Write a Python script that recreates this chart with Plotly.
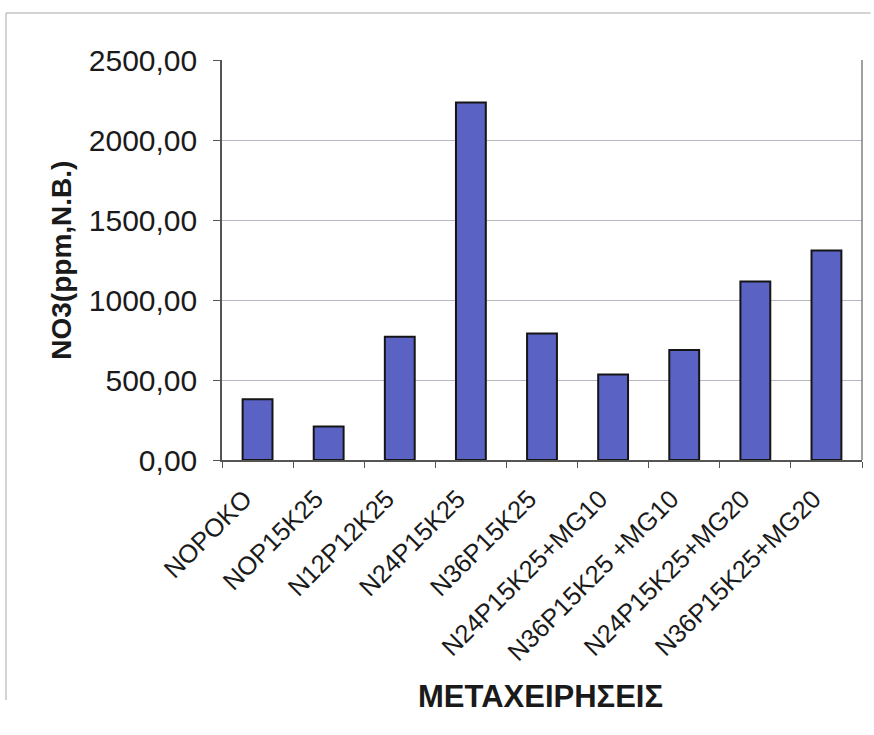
import plotly.graph_objects as go

# Treatments and nitrate content (ppm, fresh weight)
treatments = [
    "NOPOKO",
    "NOP15K25",
    "N12P12K25",
    "N24P15K25",
    "N36P15K25",
    "N24P15K25+MG10",
    "N36P15K25 +MG10",
    "N24P15K25+MG20",
    "N36P15K25+MG20",
]
no3_values = [380, 210, 770, 2235, 790, 535, 688, 1115, 1310]
y_ticks = [0, 500, 1000, 1500, 2000, 2500]

FONT = "Liberation Sans, Arial, sans-serif"

fig = go.Figure(
    go.Bar(
        x=treatments,
        y=no3_values,
        width=0.42,
        marker=dict(color="#5A62C4", line=dict(color="#151515", width=2)),
        hoverinfo="x+y",
    )
)

fig.update_layout(
    width=874,
    height=735,
    autosize=False,
    margin=dict(l=222, r=12, t=60, b=275),
    paper_bgcolor="#FFFFFF",
    plot_bgcolor="#FFFFFF",
    separators=", ",
    font=dict(family=FONT, color="#1E1E1E"),
    showlegend=False,
    xaxis=dict(
        type="category",
        tickangle=-45,
        tickfont=dict(size=25.5, color="#1A1A1A"),
        ticks="outside",
        tickson="boundaries",
        ticklen=6,
        tickcolor="#555555",
        showline=True,
        linecolor="#555555",
        linewidth=1.5,
        showgrid=False,
        ticklabelstandoff=12,
        ticklabelshift=-13,
    ),
    yaxis=dict(
        range=[0, 2500],
        tickvals=y_ticks,
        tickformat=".2f",
        tickfont=dict(size=30, color="#1A1A1A"),
        ticks="outside",
        ticklen=7,
        tickcolor="#555555",
        showline=True,
        linecolor="#555555",
        linewidth=1.5,
        showgrid=True,
        gridcolor="#B8B8C4",
        gridwidth=1,
        zeroline=False,
        ticklabelstandoff=10,
    ),
    annotations=[
        dict(
            text="NO3(ppm,N.B.)",
            textangle=-90,
            xref="paper",
            yref="paper",
            x=-0.252,
            y=0.5,
            xanchor="center",
            yanchor="middle",
            showarrow=False,
            font=dict(family=FONT, size=28, weight="bold", color="#1A1A1A"),
        ),
        dict(
            text="ΜΕΤΑΧΕΙΡΗΣΕΙΣ",
            xref="paper",
            yref="paper",
            x=0.497,
            y=-0.59,
            xanchor="center",
            yanchor="middle",
            showarrow=False,
            font=dict(family=FONT, size=31, weight="bold", color="#1A1A1A"),
        ),
    ],
    shapes=[
        # right edge of the plot frame
        dict(type="line", xref="paper", yref="paper", x0=1, x1=1, y0=0, y1=1,
             line=dict(color="#808080", width=1.5)),
        # outer chart border (top and left)
        dict(type="line", xref="paper", yref="paper",
             x0=-0.3375, x1=1.0135, y0=1.1175, y1=1.1175,
             line=dict(color="#C4C4C4", width=1.5)),
        dict(type="line", xref="paper", yref="paper",
             x0=-0.3375, x1=-0.3375, y0=-0.6, y1=1.1175,
             line=dict(color="#C4C4C4", width=1.5)),
    ],
)

fig.write_html("out.html")
